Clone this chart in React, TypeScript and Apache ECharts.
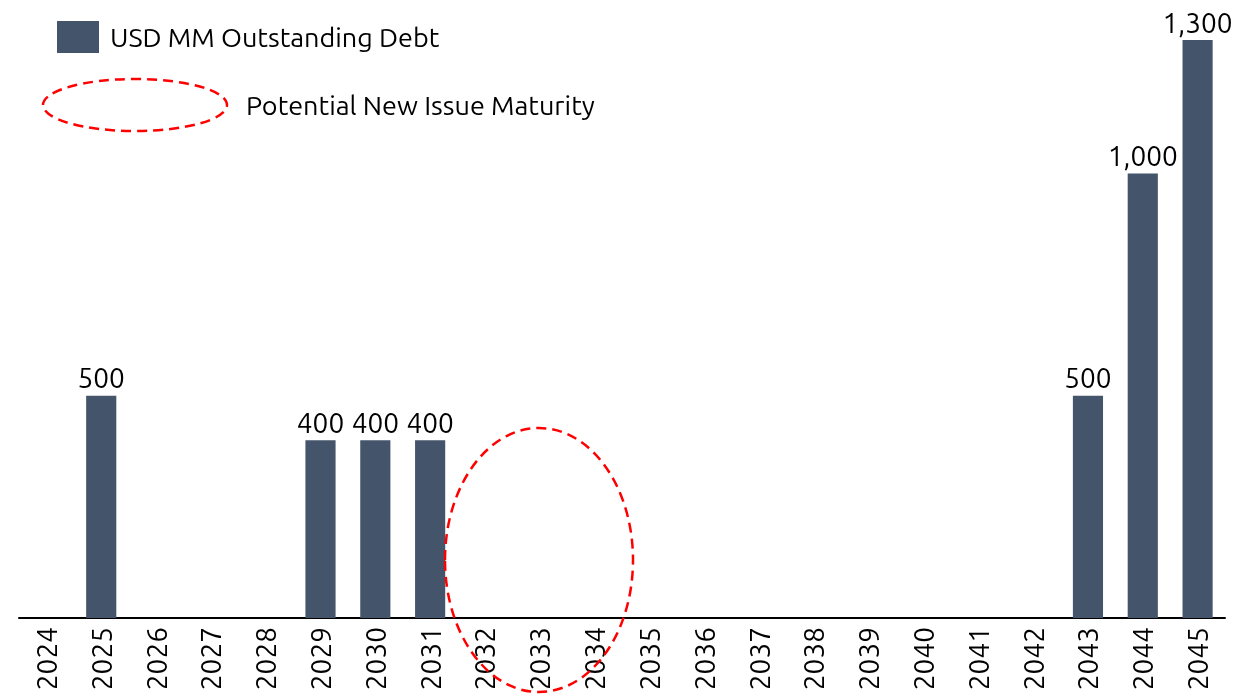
import React, { useEffect, useRef } from "react";
import * as echarts from "echarts";

const years = ["2024","2025","2026","2027","2028","2029","2030","2031","2032","2033","2034","2035","2036","2037","2038","2039","2040","2041","2042","2043","2044","2045"];
const debt: (number | null)[] = [null,500,null,null,null,400,400,400,null,null,null,null,null,null,null,null,null,null,null,500,1000,1300];
const seriesName = "USD MM Outstanding Debt";
const newIssueLabel = "Potential New Issue Maturity";
const barColor = "#44546A";
const FONT = "Ubuntu, 'Open Sans', 'Noto Sans', sans-serif";
const FS = 28;
const LFS = 27;

export default function App() {
  const ref = useRef<HTMLDivElement>(null);
  useEffect(() => {
    if (!ref.current) return;
    const chart = echarts.init(ref.current, null, { renderer: "svg" });
    chart.setOption({
      animation: false,
      textStyle: { fontFamily: FONT },
      grid: { left: 19, right: 31, top: 40, bottom: 77 },
      legend: {
        left: 52, top: 16, itemWidth: 42, itemHeight: 32, itemGap: 10,
        icon: "rect",
        textStyle: { fontSize: LFS, color: "#000", fontFamily: FONT, padding: [0, 0, 0, 6] },
        data: [seriesName],
      },
      xAxis: {
        type: "category",
        data: years,
        axisLine: { lineStyle: { color: "#000", width: 2 } },
        axisTick: { show: false },
        axisLabel: { rotate: 90, fontSize: FS, color: "#000", margin: 9, interval: 0, fontFamily: FONT },
      },
      yAxis: { type: "value", min: 0, max: 1300, show: false, splitLine: { show: false } },
      series: [{
        name: seriesName,
        type: "bar",
        data: debt,
        barWidth: "55%",
        itemStyle: { color: barColor },
        label: {
          show: true, position: "top", distance: 4, fontSize: FS, color: "#000", fontFamily: FONT,
          formatter: (p: any) => (p.value == null ? "" : Number(p.value).toLocaleString("en-US")),
        },
      }],
      graphic: [
        { type: "ellipse", shape: { cx: 135, cy: 105, rx: 92, ry: 26 },
          style: { fill: "none", stroke: "#FF0000", lineWidth: 2.5, lineDash: [10, 6] } },
        { type: "text", x: 246, y: 105, style: { text: newIssueLabel, fill: "#000", font: `${LFS}px ${FONT}`, textVerticalAlign: "middle" } },
        { type: "ellipse", shape: { cx: 539, cy: 560, rx: 94, ry: 132 },
          style: { fill: "none", stroke: "#FF0000", lineWidth: 2.5, lineDash: [10, 6] }, z: 100 },
      ],
    });
    return () => chart.dispose();
  }, []);
  return <div ref={ref} style={{ position: "fixed", left: 0, top: 0, width: 1256, height: 695 }} />;
}
